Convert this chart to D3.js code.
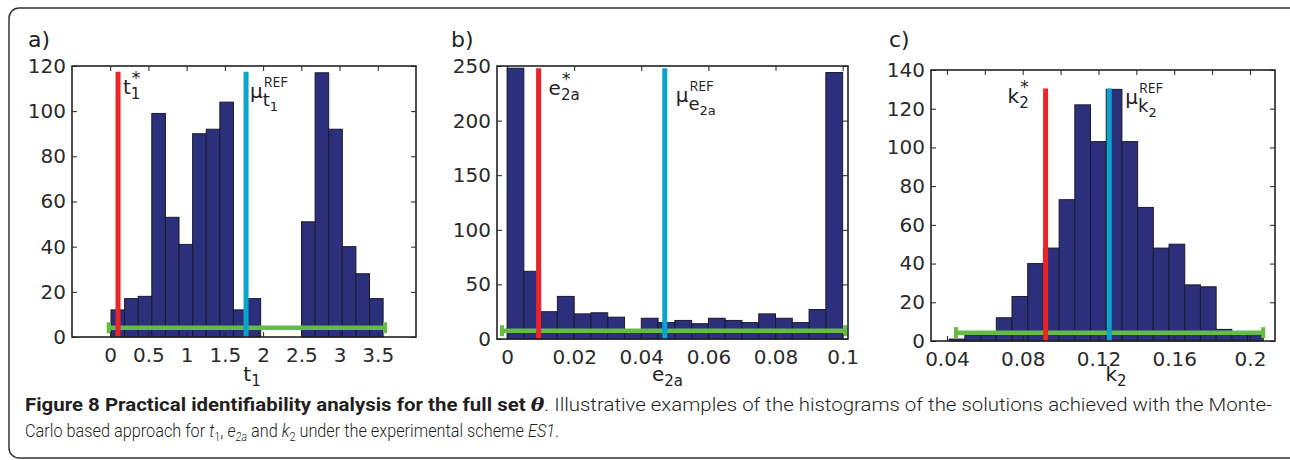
<!DOCTYPE html>
<html>
<head>
<meta charset="utf-8">
<script src="https://cdn.jsdelivr.net/npm/d3@7"></script>
<style>
  body { margin: 0; background: #fff; }
  svg { display: block; }
</style>
</head>
<body>
<svg id="fig"></svg>
<script>
var width = 1290, height = 460;

// ---- data ----
// a) t1
var aCounts = [12, 17, 18, 99, 53, 41, 90, 92, 104, 12, 17, 0, 0, 0, 51, 117, 92, 40, 28, 17];
var aBinStart = 0.01, aBinWidth = 0.178;
var aTicks = [0, 0.5, 1, 1.5, 2, 2.5, 3, 3.5];
var aYTicks = [0, 20, 40, 60, 80, 100, 120];
var aStar = 0.102, aRef = 1.777, aLineTop = 117.5;
var aRange = [-0.02, 3.595], aRangeY = 4.1;

// b) e2a
var bCounts = [248, 62, 25, 39, 23, 24, 20, 6, 19, 15, 17, 14, 19, 17, 15, 23, 19, 15, 27, 244];
var bBinStart = 0, bBinWidth = 0.005;
var bTicks = [0, 0.02, 0.04, 0.06, 0.08, 0.1];
var bYTicks = [0, 50, 100, 150, 200, 250];
var bStar = 0.0094, bRef = 0.047, bLineTop = 248;
var bRange = [-0.0015, 0.1008], bRangeY = 7.6;

// c) k2
var cCounts = [1, 3, 3, 12, 23, 40, 48, 73, 122, 103, 130, 103, 69, 48, 50, 29, 28, 6, 4, 4];
var cBinStart = 0.0412, cBinWidth = 0.00829;
var cTicks = [0.04, 0.08, 0.12, 0.16, 0.2];
var cTopTicks = [0.04, 0.06, 0.08, 0.1, 0.12, 0.14, 0.16, 0.18, 0.2];
var cYTicks = [0, 20, 40, 60, 80, 100, 120, 140];
var cStar = 0.0921, cRef = 0.1257, cLineTop = 130.5;
var cRange = [0.0448, 0.207], cRangeY = 4.3;

var barFill = "#2b2f7c", redC = "#ec2427", cyanC = "#0aa3c9", greenC = "#66bb44";
var tickFont = "DejaVu Sans";

const svg = d3.select("#fig").attr("width", width).attr("height", height);

// outer frame
svg.append("rect")
  .attr("x", 9).attr("y", 8).attr("width", 1295).attr("height", 450)
  .attr("rx", 10).attr("ry", 10)
  .style("fill", "none").style("stroke", "#333").style("stroke-width", 1.5);

function drawPanel(p) {
  var g = svg.append("g");
  var x = d3.scaleLinear().domain(p.xDomain).range([p.left, p.right]);
  var y = d3.scaleLinear().domain(p.yDomain).range([p.bottom, p.top]);

  // bars
  g.selectAll(".bar").data(p.counts).enter()
    .append("rect")
      .attr("class", "bar")
      .attr("x", (d, i) => x(p.binStart + i * p.binWidth))
      .attr("width", (d, i) => x(p.binStart + (i + 1) * p.binWidth) - x(p.binStart + i * p.binWidth))
      .attr("y", d => y(d))
      .attr("height", d => y(0) - y(d))
      .style("fill", barFill)
      .style("stroke", "#1b1b2a")
      .style("stroke-width", 1)
      .style("display", d => d > 0 ? null : "none");

  // green range line with caps
  var gy = y(p.rangeY);
  g.append("line")
    .attr("x1", x(p.range[0])).attr("x2", x(p.range[1]))
    .attr("y1", gy).attr("y2", gy)
    .style("stroke", greenC).style("stroke-width", 4.5);
  p.range.forEach(v => {
    g.append("rect")
      .attr("x", x(v) - 2).attr("y", gy - 5.5)
      .attr("width", 4).attr("height", 11)
      .style("fill", greenC);
  });

  // vertical markers
  [[p.star, redC], [p.ref, cyanC]].forEach(m => {
    g.append("line")
      .attr("x1", x(m[0])).attr("x2", x(m[0]))
      .attr("y1", y(p.lineTop)).attr("y2", y(0))
      .style("stroke", m[1]).style("stroke-width", 5);
  });

  // axes (matlab style: ticks inward on all sides)
  var ax = g.append("g").attr("transform", "translate(0," + p.bottom + ")")
    .call(d3.axisBottom(x).tickValues(p.xTicks).tickSizeInner(-5).tickSizeOuter(0).tickPadding(11).tickFormat(d3.format("~g")));
  var ay = g.append("g").attr("transform", "translate(" + p.left + ",0)")
    .call(d3.axisLeft(y).tickValues(p.yTicks).tickSizeInner(-5).tickSizeOuter(0).tickPadding(6));
  var at = g.append("g").attr("transform", "translate(0," + p.top + ")")
    .call(d3.axisTop(x).tickValues(p.topTicks || p.xTicks).tickSizeInner(-5).tickSizeOuter(0).tickFormat(""));
  var ar = g.append("g").attr("transform", "translate(" + p.right + ",0)")
    .call(d3.axisRight(y).tickValues(p.yTicks).tickSizeInner(-5).tickSizeOuter(0).tickFormat(""));
  [ax, ay, at, ar].forEach(a => {
    a.select(".domain").remove();
    a.selectAll("line").style("stroke", "#222").style("stroke-width", 1);
    a.selectAll("text").style("font-family", tickFont).style("font-size", "20px").style("fill", "#2a2a2a");
  });

  // box
  g.append("rect")
    .attr("x", p.left).attr("y", p.top)
    .attr("width", p.right - p.left).attr("height", p.bottom - p.top)
    .style("fill", "none").style("stroke", "#222").style("stroke-width", 1.6);

  // panel letter
  svg.append("text").attr("x", p.letterX).attr("y", 47)
    .text(p.letter)
    .style("font-family", tickFont).style("font-size", "22px").style("fill", "#222");

  // axis title
  symbol(g, (p.left + p.right) / 2 + p.titleDx, 381, p.title, p.titleSub, null, 20, true);

  // marker labels
  symbol(g, x(p.star) + p.starDx, y(p.lineTop) + p.starDy, p.title, p.titleSub, "*", 20, false);
  symbol(g, x(p.ref) + p.refDx, y(p.lineTop) + p.refDy, "\u03bc", p.title + p.titleSub, "REF", 20, false, true);
}

// draws base letter with subscript / superscript stacked after it
function symbol(g, x0, y0, base, sub, sup, fs, centered, refStyle) {
  var t = g.append("text").attr("x", x0).attr("y", y0).text(base)
    .style("font-family", tickFont).style("font-size", fs + "px").style("fill", "#222");
  var w = t.node().getComputedTextLength();
  var subW = 0;
  if (refStyle) {
    // sub is a symbol with its own subscript, e.g. t1, e2a, k2
    var b = sub.charAt(0), s = sub.slice(1);
    var t2 = g.append("text").attr("x", x0 + w).attr("y", y0 + 8).text(b)
      .style("font-family", tickFont).style("font-size", (fs - 2) + "px").style("fill", "#222");
    var w2 = t2.node().getComputedTextLength();
    g.append("text").attr("x", x0 + w + w2).attr("y", y0 + 13).text(s)
      .style("font-family", tickFont).style("font-size", (fs - 7) + "px").style("fill", "#222");
    g.append("text").attr("x", x0 + w + 1).attr("y", y0 - 11).text(sup)
      .style("font-family", "Open Sans").style("font-size", "14px").style("fill", "#222");
    return;
  }
  var ts = g.append("text").attr("x", x0 + w).attr("y", y0 + 5).text(sub)
    .style("font-family", tickFont).style("font-size", (fs - 5) + "px").style("fill", "#222");
  subW = ts.node().getComputedTextLength();
  if (sup) {
    g.append("text").attr("x", x0 + w + 1).attr("y", y0 - 10).text(sup)
      .style("font-family", tickFont).style("font-size", (fs - 3) + "px").style("fill", "#222");
  }
  if (centered) {
    var shift = (w + subW) / 2;
    t.attr("x", x0 - shift);
    ts.attr("x", x0 - shift + w);
  }
}

drawPanel({
  left: 72, right: 416, top: 66, bottom: 337,
  xDomain: [-0.5, 4], yDomain: [0, 120],
  counts: aCounts, binStart: aBinStart, binWidth: aBinWidth,
  xTicks: aTicks, yTicks: aYTicks,
  star: aStar, ref: aRef, lineTop: aLineTop,
  range: aRange, rangeY: aRangeY,
  letter: "a)", letterX: 28, title: "t", titleSub: "1", titleDx: 8,
  starDx: 5, starDy: 22, refDx: 4, refDy: 26
});

drawPanel({
  left: 497, right: 848, top: 66, bottom: 339,
  xDomain: [-0.003, 0.1016], yDomain: [0, 250],
  counts: bCounts, binStart: bBinStart, binWidth: bBinWidth,
  xTicks: bTicks, yTicks: bYTicks,
  star: bStar, ref: bRef, lineTop: bLineTop,
  range: bRange, rangeY: bRangeY,
  letter: "b)", letterX: 451, title: "e", titleSub: "2a", titleDx: -5,
  starDx: 10, starDy: 27, refDx: 11, refDy: 34
});

drawPanel({
  left: 931, right: 1275, top: 70, bottom: 341,
  xDomain: [0.0316, 0.2132], yDomain: [0, 140],
  counts: cCounts, binStart: cBinStart, binWidth: cBinWidth,
  xTicks: cTicks, topTicks: cTopTicks, yTicks: cYTicks,
  star: cStar, ref: cRef, lineTop: cLineTop,
  range: cRange, rangeY: cRangeY,
  letter: "c)", letterX: 889, title: "k", titleSub: "2", titleDx: 13,
  starDx: -38, starDy: 15, refDx: 16, refDy: 16
});

// caption: natural text, squeezed horizontally to the reference line widths
var capFont = "Roboto, 'Liberation Sans Narrow', sans-serif";
function squeeze(sel, x0, targetW) {
  var w = sel.node().getComputedTextLength();
  var k = targetW / w;
  sel.attr("transform", "translate(" + x0 + ",0) scale(" + k + ",1) translate(" + (-x0) + ",0)");
}

var cap1 = svg.append("text").attr("x", 25).attr("y", 411)
  .style("font-family", capFont).style("font-size", "18px").style("fill", "#231f20");
cap1.append("tspan").style("font-weight", "bold").text("Figure 8 Practical identifiability analysis for the full set ");
cap1.append("tspan").style("font-weight", "bold").style("font-style", "italic").attr("font-family", "DejaVu Serif").text("\u03b8");
cap1.append("tspan").style("font-weight", 300).text(". Illustrative examples of the histograms of the solutions achieved with the Monte-");
squeeze(cap1, 25, 1247);

var cap2 = svg.append("text").attr("x", 25).attr("y", 437)
  .style("font-family", capFont).style("font-size", "18px").style("font-weight", 300).style("fill", "#231f20");
var parts = [
  ["Carlo based approach for ", null, 0], ["t", "italic", 0], ["1", null, 4], [", ", null, -4],
  ["e", "italic", 0], ["2a", "italic", 4], [" and ", null, -4], ["k", "italic", 0], ["2", null, 4],
  [" under the experimental scheme ", null, -4], ["ES1", "italic", 0], [".", null, 0]
];
parts.forEach(pt => {
  var s = cap2.append("tspan").text(pt[0]).attr("dy", pt[2]);
  if (pt[1]) s.style("font-style", pt[1]);
  if (pt[2] > 0) s.style("font-size", "12px");
});
squeeze(cap2, 25, 534);
</script>
</body>
</html>
